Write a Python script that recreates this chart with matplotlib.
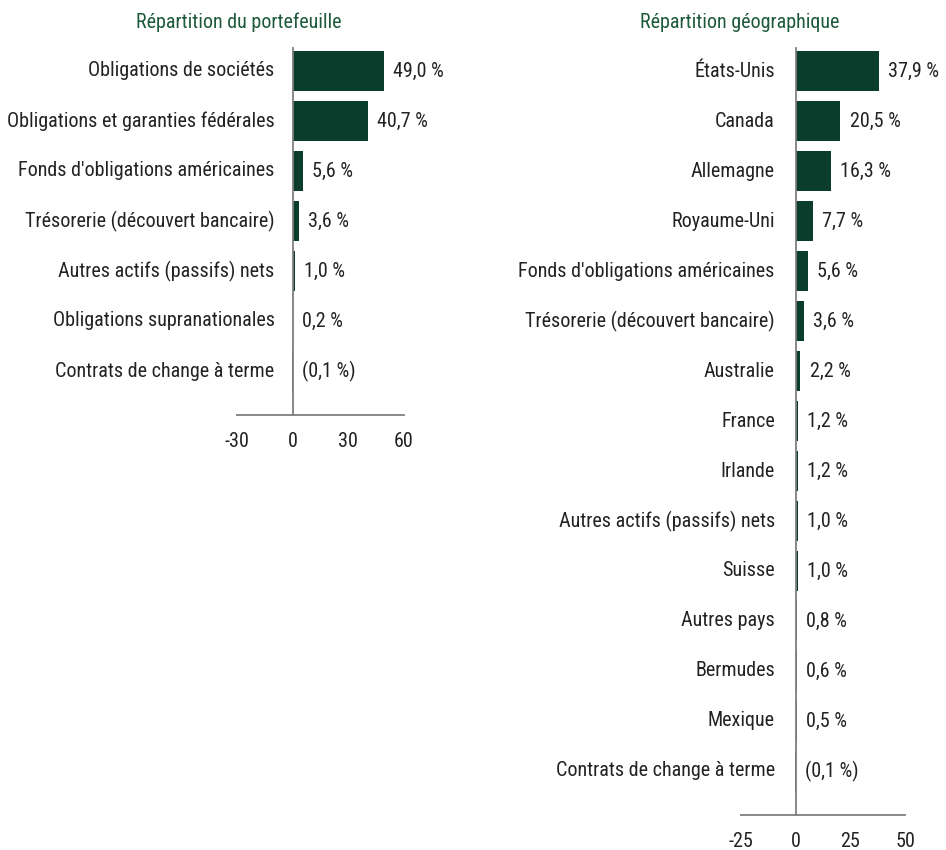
import matplotlib
matplotlib.use("Agg")
import matplotlib.pyplot as plt
from matplotlib import font_manager

names = {f.name for f in font_manager.fontManager.ttflist}
FAM = next((n for n in ["Roboto Condensed", "Archivo Narrow", "PT Sans Narrow", "Roboto"] if n in names), "DejaVu Sans")
plt.rcParams['font.family'] = [FAM, 'DejaVu Sans']
plt.rcParams['font.stretch'] = 'condensed'

# ---------------- data ----------------
left_title = "Répartition du portefeuille"
left_cats = ["Obligations de sociétés", "Obligations et garanties fédérales",
             "Fonds d'obligations américaines", "Trésorerie (découvert bancaire)",
             "Autres actifs (passifs) nets", "Obligations supranationales",
             "Contrats de change à terme"]
left_vals = [49.0, 40.7, 5.6, 3.6, 1.0, 0.2, -0.1]
left_ticks = [-30, 0, 30, 60]

right_title = "Répartition géographique"
right_cats = ["États-Unis", "Canada", "Allemagne", "Royaume-Uni",
              "Fonds d'obligations américaines", "Trésorerie (découvert bancaire)",
              "Australie", "France", "Irlande", "Autres actifs (passifs) nets",
              "Suisse", "Autres pays", "Bermudes", "Mexique",
              "Contrats de change à terme"]
right_vals = [37.9, 20.5, 16.3, 7.7, 5.6, 3.6, 2.2, 1.2, 1.2, 1.0, 1.0, 0.8, 0.6, 0.5, -0.1]
right_ticks = [-25, 0, 25, 50]

W, H = 946, 850
BAR = "#0b3d2c"
TITLE = "#1d5a3c"
TXT = "#222222"
AX = "#7f7f7f"
FS = 14.5

fig = plt.figure(figsize=(W / 100, H / 100), dpi=100)


def fmt(v):
    s = f"{abs(v):.1f}".replace(".", ",") + " %"
    return f"({s})" if v < 0 else s


def panel(x0, x1, y_top, y_bot, xlim, cats, vals, ticks, title, title_x, lab_off):
    ax = fig.add_axes([x0 / W, (H - y_bot) / H, (x1 - x0) / W, (y_bot - y_top) / H])
    n = len(cats)
    ys = list(range(n))
    ax.barh(ys, vals, height=0.8, color=BAR)
    ax.set_xlim(*xlim)
    ax.set_ylim(n - 1 + 0.88, -0.46)
    ax.set_yticks([])
    ax.set_xticks(ticks)
    ax.set_xticklabels([str(t) for t in ticks], fontsize=FS, color=TXT)
    ax.tick_params(axis='x', length=0, pad=12)
    for s in ["top", "right"]:
        ax.spines[s].set_visible(False)
    ax.spines["left"].set_position(("data", 0))
    ax.spines["left"].set_color(AX)
    ax.spines["left"].set_linewidth(1.3)
    ax.spines["bottom"].set_color(AX)
    ax.spines["bottom"].set_linewidth(1.3)
    for y, c, v in zip(ys, cats, vals):
        ax.annotate(c, xy=(0, y), xytext=(lab_off, 0), textcoords="offset points",
                    ha="right", va="center", fontsize=FS, color=TXT)
        ax.annotate(fmt(v), xy=(max(v, 0), y), xytext=(6.5, 0), textcoords="offset points",
                    ha="left", va="center", fontsize=FS, color=TXT)
    fig.text(title_x / W, 1 - 22 / H, title, ha="center", va="center",
             fontsize=FS, color=TITLE)
    ax.patch.set_alpha(0)
    return ax


panel(237, 404, 48, 415, (-30, 60), left_cats, left_vals, left_ticks, left_title, 239, -13)
panel(741, 905, 48, 815, (-25, 50), right_cats, right_vals, right_ticks, right_title, 740, -15)

fig.savefig("out.png", dpi=100)
